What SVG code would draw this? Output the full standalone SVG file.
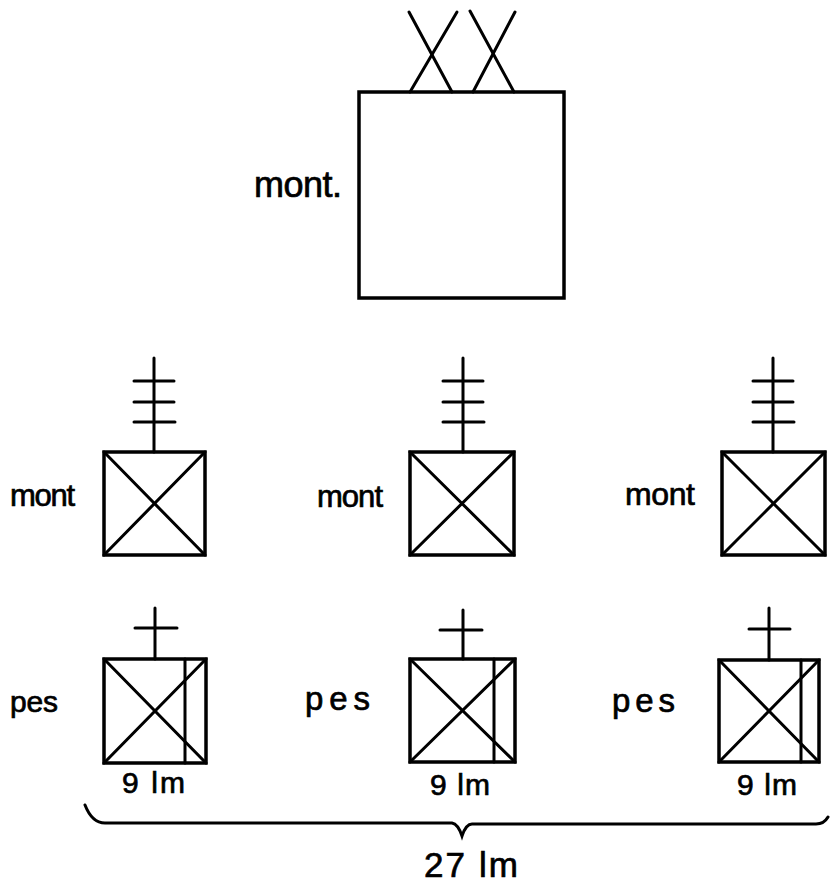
<svg xmlns="http://www.w3.org/2000/svg" width="830" height="883" viewBox="0 0 830 883">
<style>
.box{fill:none;stroke:#000;stroke-width:3.5;stroke-linejoin:miter}
.ln{fill:none;stroke:#000;stroke-width:3;stroke-linecap:round}
.t{font-family:"Liberation Sans",Arial,sans-serif;fill:#000;stroke:#000;stroke-width:0.7}
</style>
<rect width="830" height="883" fill="#fff"/>
<g id="top">
<rect class="box" x="359" y="92" width="205" height="206"/>
<line class="ln" x1="409" y1="12" x2="452" y2="92"/>
<line class="ln" x1="457" y1="12" x2="410" y2="92"/>
<line class="ln" x1="470" y1="11" x2="514" y2="92"/>
<line class="ln" x1="515" y1="12" x2="473" y2="92"/>
<text class="t" x="254" y="197" font-size="36" textLength="88" lengthAdjust="spacing">mont.</text>
</g>
<g id="mont1">
<rect class="box" x="104" y="452" width="101" height="103"/>
<line class="ln" x1="104" y1="452" x2="205" y2="555"/>
<line class="ln" x1="205" y1="452" x2="104" y2="555"/>
<line class="ln" x1="154" y1="358" x2="154" y2="452"/>
<line class="ln" x1="134" y1="381" x2="174" y2="381"/>
<line class="ln" x1="134" y1="402" x2="174" y2="402"/>
<line class="ln" x1="134" y1="422" x2="175" y2="422"/>
<text class="t" x="10" y="506" font-size="31" textLength="65" lengthAdjust="spacing">mont</text>
</g>
<g id="mont2">
<rect class="box" x="410" y="452" width="104" height="103"/>
<line class="ln" x1="410" y1="452" x2="514" y2="555"/>
<line class="ln" x1="514" y1="452" x2="410" y2="555"/>
<line class="ln" x1="463" y1="358" x2="463" y2="452"/>
<line class="ln" x1="443" y1="381" x2="483" y2="381"/>
<line class="ln" x1="443" y1="402" x2="483" y2="402"/>
<line class="ln" x1="443" y1="422" x2="484" y2="422"/>
<text class="t" x="317" y="507" font-size="31" textLength="66" lengthAdjust="spacing">mont</text>
</g>
<g id="mont3">
<rect class="box" x="722" y="452" width="103" height="103"/>
<line class="ln" x1="722" y1="452" x2="825" y2="555"/>
<line class="ln" x1="825" y1="452" x2="722" y2="555"/>
<line class="ln" x1="773" y1="358" x2="773" y2="452"/>
<line class="ln" x1="753" y1="381" x2="793" y2="381"/>
<line class="ln" x1="753" y1="402" x2="793" y2="402"/>
<line class="ln" x1="753" y1="422" x2="794" y2="422"/>
<text class="t" x="625" y="505" font-size="32" textLength="70" lengthAdjust="spacing">mont</text>
</g>
<g id="pes1">
<rect class="box" x="104" y="659" width="102" height="104"/>
<line class="ln" x1="104" y1="659" x2="206" y2="763"/>
<line class="ln" x1="206" y1="659" x2="104" y2="763"/>
<line class="ln" x1="185" y1="659" x2="185" y2="763"/>
<line class="ln" x1="155" y1="608" x2="155" y2="659"/>
<line class="ln" x1="135" y1="628" x2="177" y2="628"/>
<text class="t" x="10" y="712" font-size="30" textLength="48" lengthAdjust="spacing">pes</text>
<text class="t" x="122" y="793" font-size="30" textLength="63" lengthAdjust="spacing">9 lm</text>
</g>
<g id="pes2">
<rect class="box" x="410" y="659" width="105" height="103"/>
<line class="ln" x1="410" y1="659" x2="515" y2="762"/>
<line class="ln" x1="515" y1="659" x2="410" y2="762"/>
<line class="ln" x1="494" y1="659" x2="494" y2="762"/>
<line class="ln" x1="463" y1="610" x2="463" y2="659"/>
<line class="ln" x1="440" y1="630" x2="482" y2="630"/>
<text class="t" x="305" y="710" font-size="33" textLength="65" lengthAdjust="spacing">pes</text>
<text class="t" x="430" y="795" font-size="30" textLength="60" lengthAdjust="spacing">9 lm</text>
</g>
<g id="pes3">
<rect class="box" x="719" y="660" width="100" height="102"/>
<line class="ln" x1="719" y1="660" x2="819" y2="762"/>
<line class="ln" x1="819" y1="660" x2="719" y2="762"/>
<line class="ln" x1="801" y1="660" x2="801" y2="762"/>
<line class="ln" x1="769" y1="608" x2="769" y2="660"/>
<line class="ln" x1="749" y1="629" x2="790" y2="629"/>
<text class="t" x="612" y="712" font-size="33" textLength="63" lengthAdjust="spacing">pes</text>
<text class="t" x="737" y="795" font-size="30" textLength="60" lengthAdjust="spacing">9 lm</text>
</g>
<g id="connectors">
<path class="ln" stroke-width="3.5" d="M85 805 Q92 823 105 823 L452 823 Q458 824 462 836 Q466 824 472 824 L816 824 Q824 824 828 817"/>
</g>
<g id="total">
<text class="t" x="424" y="877" font-size="35" textLength="94" lengthAdjust="spacing">27 lm</text>
</g>
</svg>
